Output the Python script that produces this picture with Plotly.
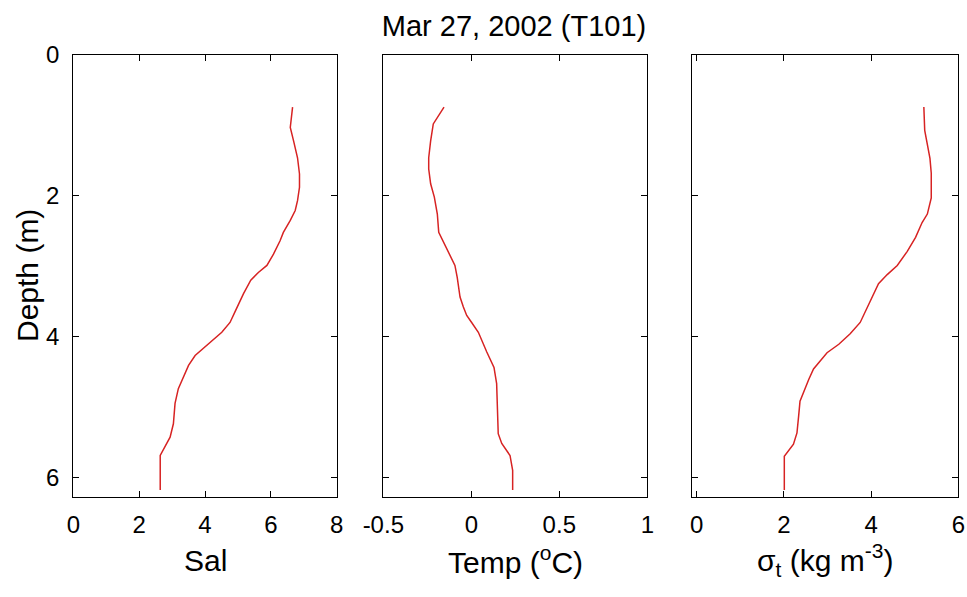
import plotly.graph_objects as go

# ---- data ----
sal_depth = [0.74, 1.03, 1.22, 1.46, 1.69, 1.88, 2.07, 2.21, 2.35, 2.52, 2.64, 2.83, 2.99, 3.09,
             3.20, 3.39, 3.65, 3.80, 3.94, 4.13, 4.27, 4.41, 4.51, 4.74, 4.95, 5.24, 5.43, 5.69, 6.18]
sal = [6.66, 6.59, 6.69, 6.81, 6.87, 6.87, 6.81, 6.74, 6.59, 6.38, 6.28, 6.08, 5.88, 5.62,
       5.39, 5.17, 4.91, 4.76, 4.51, 4.05, 3.70, 3.50, 3.40, 3.19, 3.09, 3.04, 2.94, 2.64, 2.64]

temp_depth = [0.74, 0.87, 0.98, 1.22, 1.46, 1.62, 1.83, 2.02, 2.26, 2.52, 2.76, 2.99, 3.16, 3.44,
              3.58, 3.70, 3.80, 3.94, 4.22, 4.44, 4.67, 5.00, 5.38, 5.52, 5.69, 5.90, 6.18]
temp = [-0.155, -0.19, -0.216, -0.231, -0.242, -0.242, -0.231, -0.21, -0.193, -0.185, -0.14, -0.093,
        -0.08, -0.064, -0.045, -0.026, 0.002, 0.04, 0.088, 0.129, 0.144, 0.148, 0.153, 0.173, 0.22,
        0.235, 0.235]

sig_depth = [0.74, 1.07, 1.27, 1.47, 1.68, 2.03, 2.26, 2.38, 2.59, 2.79, 2.99, 3.12, 3.25, 3.45,
             3.60, 3.80, 3.96, 4.11, 4.23, 4.46, 4.61, 4.92, 5.12, 5.37, 5.53, 5.70, 6.18]
sigma_t = [5.21, 5.23, 5.29, 5.35, 5.38, 5.38, 5.29, 5.17, 5.02, 4.83, 4.60, 4.37, 4.17, 4.02,
           3.91, 3.75, 3.52, 3.26, 2.99, 2.68, 2.57, 2.37, 2.34, 2.30, 2.22, 2.01, 2.01]

depth_ticks = [0, 2, 4, 6]
sal_ticks = [0, 2, 4, 6, 8]
temp_ticks = [-0.5, 0, 0.5, 1]
temp_ticklabels = ["-0.5", "0", "0.5", "1"]
sig_ticks = [0, 2, 4, 6]

title_text = "Mar 27, 2002 (T101)"
xtitles = ["Sal", "Temp (<sup>o</sup>C)", "σ<sub>t</sub> (kg m<sup>-3</sup>)"]
ytitle = "Depth (m)"

# ---- layout geometry ----
W, H = 967, 597
FONT = "Arial, Liberation Sans, Helvetica, sans-serif"
panels_px = [(73.3, 336.7), (383.3, 647.3), (692.3, 958.3)]
top_px, bot_px = 55, 497
ydom = [1 - bot_px / H, 1 - top_px / H]
line_col = "rgb(215,35,35)"

fig = go.Figure()
series = [(sal, sal_depth), (temp, temp_depth), (sigma_t, sig_depth)]
for i, (xv, yv) in enumerate(series):
    sfx = "" if i == 0 else str(i + 1)
    fig.add_trace(go.Scatter(x=xv, y=yv, mode="lines", xaxis="x" + sfx, yaxis="y" + sfx,
                             line=dict(color=line_col, width=1.5), showlegend=False,
                             hoverinfo="skip"))

xranges = [[0, 8], [-0.5, 1], [-0.1, 6]]
xtickvals = [sal_ticks, temp_ticks, sig_ticks]
xticktext = [[str(v) for v in sal_ticks], temp_ticklabels, [str(v) for v in sig_ticks]]

axis_common = dict(showline=True, linecolor="black", linewidth=1.2, mirror="ticks",
                   ticks="inside", ticklen=6, tickcolor="black", tickwidth=1.2,
                   showgrid=False, zeroline=False, automargin=False,
                   tickfont=dict(family=FONT, size=24, color="black"))

layout = dict(width=W, height=H,
              margin=dict(l=0, r=0, t=0, b=0, pad=0, autoexpand=False),
              paper_bgcolor="white", plot_bgcolor="white", showlegend=False,
              font=dict(family=FONT, color="black"))
for i, (x0, x1) in enumerate(panels_px):
    sfx = "" if i == 0 else str(i + 1)
    layout["xaxis" + sfx] = dict(axis_common, domain=[x0 / W, x1 / W], range=xranges[i],
                                 tickmode="array", tickvals=xtickvals[i], ticktext=xticktext[i],
                                 anchor="y" + sfx, ticklabelstandoff=6)
    layout["yaxis" + sfx] = dict(axis_common, domain=ydom, range=[6.28, 0],
                                 tickmode="array", tickvals=depth_ticks,
                                 ticktext=[str(v) for v in depth_ticks],
                                 showticklabels=(i == 0), anchor="x" + sfx,
                                 ticklabelstandoff=8)

annotations = []
for i, (x0, x1) in enumerate(panels_px):
    annotations.append(dict(text=xtitles[i], xref="paper", yref="paper",
                            x=(x0 + x1) / 2 / W, y=1 - 560 / H, xanchor="center", yanchor="middle",
                            showarrow=False, font=dict(family=FONT, size=30, color="black")))
annotations.append(dict(text=ytitle, xref="paper", yref="paper", x=27 / W,
                        y=1 - (top_px + bot_px) / 2 / H, textangle=-90,
                        xanchor="center", yanchor="middle", showarrow=False,
                        font=dict(family=FONT, size=30, color="black")))
layout["annotations"] = annotations
layout["title"] = dict(text=title_text, x=514 / W, y=1 - 26 / H, xanchor="center",
                       yanchor="middle", font=dict(family=FONT, size=29, color="black"))

fig.update_layout(**layout)
fig.write_html("out.html")
